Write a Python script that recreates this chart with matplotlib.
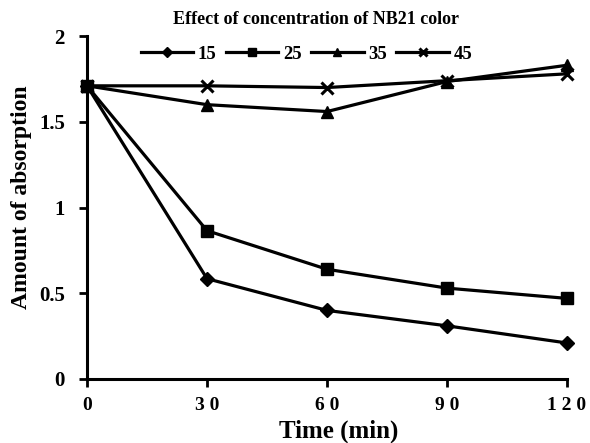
import matplotlib.pyplot as plt

time_min = [0, 30, 60, 90, 120]
series_labels = ["15", "25", "35", "45"]
absorption_15 = [1.71, 0.585, 0.40, 0.31, 0.21]
absorption_25 = [1.71, 0.865, 0.64, 0.53, 0.47]
absorption_35 = [1.71, 1.60, 1.56, 1.735, 1.83]
absorption_45 = [1.71, 1.71, 1.70, 1.74, 1.78]

plt.rcParams['font.family'] = ['Liberation Serif', 'DejaVu Serif']
plt.rcParams['font.weight'] = 'bold'

fig = plt.figure(figsize=(5.9, 4.43), dpi=100)
ax = fig.add_axes([0.1475, 0.1445, 0.8136, 0.774])

styles = [('D', 7, 1), ('s', 9, 1), ('^', 9, 1), ('x', 9, 2.2)]
for vals, lab, (m, ms, mew) in zip(
        [absorption_15, absorption_25, absorption_35, absorption_45], series_labels, styles):
    ax.plot(time_min, vals, color='black', lw=2.3, marker=m, ms=ms, mew=mew,
            mfc='black', mec='black', label=lab, clip_on=False)

ax.set_xlim(0, 120)
ax.set_ylim(0, 2)
ax.set_xticks(time_min)
ax.set_xticklabels(["0", "3 0", "6 0", "9 0", "1 2 0"])
ax.set_yticks([0, 0.5, 1, 1.5, 2])
ax.set_yticklabels(["0", "0.5", "1", "1.5", "2"])
for s in ['top', 'right']:
    ax.spines[s].set_visible(False)
for s in ['left', 'bottom']:
    ax.spines[s].set_linewidth(2.2)
ax.tick_params(direction='out', width=2, length=6, labelsize=15)
ax.tick_params(axis='x', labelsize=14, pad=7)
ax.tick_params(axis='y', pad=10)
for t in ax.get_xticklabels() + ax.get_yticklabels():
    t.set_fontweight('bold')

ax.set_xlabel('Time (min)', fontsize=18, fontweight='bold')
ax.set_ylabel('Amount of absorption', fontsize=17, fontweight='bold')
ax.xaxis.set_label_coords(0.525, -0.152)
ax.xaxis.label.set_va('center')
ax.yaxis.set_label_coords(-0.1375, 0.53)
ax.yaxis.label.set_va('center')
fig.text(316 / 590, 1 - 20 / 443, 'Effect of concentration of NB21 color', ha='center', va='center',
         fontsize=13, fontweight='bold')

leg = ax.legend(ncol=4, loc='center', bbox_to_anchor=(0.457, 0.947), frameon=False,
                handlelength=2.8, columnspacing=0.5, handletextpad=0.25, markerscale=0.7,
                prop={'size': 13.5, 'weight': 'bold'})

fig.savefig('out.png', dpi=100)
